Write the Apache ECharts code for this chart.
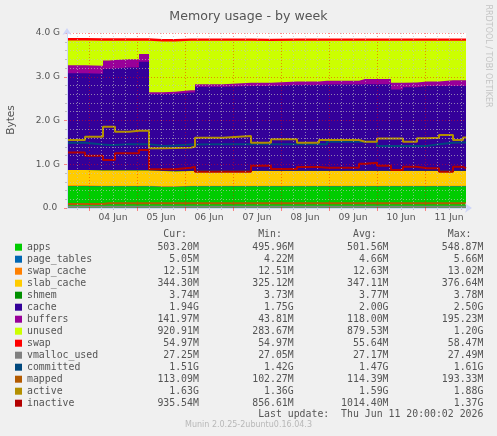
<!DOCTYPE html>
<html>
<head>
<meta charset="utf-8">
<title>Memory usage - by week</title>
<script src="https://cdn.jsdelivr.net/npm/echarts@6.0.0/dist/echarts.min.js"></script>
<style>
    html, body { margin: 0; padding: 0; background: #f0f0f0; }
    #chart { width: 497px; height: 436px; }
</style>
</head>
<body>
<div id="chart"></div>
<script>
// time of each sample, hours after 04 Jun 00:00 (value holds until next sample)
var hours = [-11, -2, 7, 10, 13, 20, 25, 30, 37, 43, 51, 53, 67, 81, 91, 104, 115, 119, 135, 138, 144, 151, 157, 164, 169, 175, 182, 187, 188.5];
var dayLabels = ['04 Jun', '05 Jun', '06 Jun', '07 Jun', '08 Jun', '09 Jun', '10 Jun', '11 Jun'];
var yTickLabels = ['0.0 ', '1.0 G', '2.0 G', '3.0 G', '4.0 G'];

// stacked areas, GiB
var apps       = [0.50, 0.49, 0.49, 0.49, 0.49, 0.49, 0.49, 0.48, 0.48, 0.49, 0.49, 0.49, 0.49, 0.49, 0.49, 0.49, 0.49, 0.49, 0.49, 0.49, 0.49, 0.49, 0.49, 0.49, 0.49, 0.49, 0.49, 0.49, 0.49];
var pageTables = [0.0045, 0.0045, 0.0045, 0.0045, 0.0045, 0.0045, 0.005, 0.004, 0.004, 0.0045, 0.0045, 0.0045, 0.0045, 0.0045, 0.0045, 0.0045, 0.0045, 0.0045, 0.0045, 0.0045, 0.0045, 0.0045, 0.0045, 0.0045, 0.0045, 0.005, 0.005, 0.005, 0.005];
var swapCache  = [0.0127, 0.0127, 0.0125, 0.0125, 0.0125, 0.0125, 0.0125, 0.0124, 0.0124, 0.0124, 0.0124, 0.0123, 0.0123, 0.0123, 0.0123, 0.0123, 0.0123, 0.0123, 0.0122, 0.0122, 0.0122, 0.0122, 0.0122, 0.0122, 0.0122, 0.0122, 0.0122, 0.0122, 0.0122];
var slabCache  = [0.35, 0.35, 0.35, 0.35, 0.35, 0.35, 0.35, 0.35, 0.34, 0.34, 0.34, 0.34, 0.34, 0.34, 0.34, 0.34, 0.34, 0.34, 0.34, 0.34, 0.34, 0.34, 0.34, 0.34, 0.34, 0.34, 0.34, 0.34, 0.34];
var shmem      = [0.0037, 0.0037, 0.0037, 0.0037, 0.0037, 0.0037, 0.0037, 0.0037, 0.0037, 0.0037, 0.0037, 0.0037, 0.0037, 0.0037, 0.0037, 0.0037, 0.0037, 0.0037, 0.0037, 0.0037, 0.0037, 0.0037, 0.0037, 0.0037, 0.0037, 0.0037, 0.0037, 0.0037, 0.0037];
var cache      = [2.21, 2.21, 2.32, 2.33, 2.35, 2.35, 2.48, 1.75, 1.77, 1.79, 1.79, 1.92, 1.94, 1.94, 1.96, 1.96, 1.97, 1.97, 1.98, 1.98, 1.98, 1.86, 1.91, 1.94, 1.94, 1.94, 1.94, 1.94, 1.94];
var buffers    = [0.18, 0.18, 0.19, 0.19, 0.19, 0.19, 0.18, 0.045, 0.045, 0.05, 0.05, 0.06, 0.07, 0.075, 0.08, 0.08, 0.09, 0.09, 0.12, 0.12, 0.12, 0.15, 0.11, 0.10, 0.10, 0.13, 0.13, 0.13, 0.13];
var unused     = [0.57, 0.57, 0.45, 0.44, 0.42, 0.42, 0.30, 1.16, 1.15, 1.13, 1.13, 0.99, 0.96, 0.95, 0.93, 0.93, 0.91, 0.91, 0.87, 0.87, 0.87, 0.96, 0.95, 0.93, 0.93, 0.90, 0.90, 0.90, 0.90];
var swap       = [0.057, 0.057, 0.057, 0.057, 0.057, 0.057, 0.057, 0.055, 0.055, 0.055, 0.055, 0.055, 0.055, 0.055, 0.055, 0.055, 0.055, 0.054, 0.054, 0.054, 0.054, 0.054, 0.054, 0.054, 0.054, 0.054, 0.054, 0.054, 0.054];

// lines, GiB
var vmallocUsed = [0.0265, 0.0265, 0.0265, 0.0265, 0.0265, 0.0265, 0.0265, 0.0265, 0.0265, 0.0265, 0.0265, 0.0265, 0.0265, 0.0265, 0.0265, 0.0265, 0.0265, 0.0265, 0.0265, 0.0265, 0.0265, 0.0265, 0.0265, 0.0265, 0.0265, 0.0265, 0.0265, 0.0265, 0.0265];
var committed   = [1.49, 1.45, 1.44, 1.44, 1.46, 1.46, 1.46, 1.42, 1.43, 1.45, 1.45, 1.46, 1.46, 1.46, 1.456, 1.456, 1.456, 1.516, 1.516, 1.516, 1.42, 1.42, 1.42, 1.42, 1.456, 1.49, 1.50, 1.50, 1.50];
var mapped      = [0.09, 0.09, 0.11, 0.11, 0.11, 0.11, 0.11, 0.11, 0.11, 0.11, 0.11, 0.11, 0.11, 0.11, 0.11, 0.11, 0.11, 0.11, 0.11, 0.11, 0.11, 0.11, 0.11, 0.11, 0.11, 0.11, 0.11, 0.11, 0.11];
var active      = [1.554, 1.63, 1.858, 1.858, 1.744, 1.767, 1.767, 1.364, 1.37, 1.38, 1.40, 1.607, 1.646, 1.49, 1.57, 1.49, 1.554, 1.554, 1.516, 1.516, 1.59, 1.59, 1.516, 1.593, 1.607, 1.669, 1.554, 1.61, 1.61];
var inactive    = [1.27, 1.195, 1.097, 1.097, 1.25, 1.25, 1.326, 0.884, 0.884, 0.92, 0.944, 0.83, 0.83, 0.967, 0.89, 0.937, 0.92, 0.92, 1.013, 1.035, 0.967, 0.869, 0.944, 0.907, 0.907, 0.83, 0.944, 0.907, 0.907];

// legend table
var names   = ['apps', 'page_tables', 'swap_cache', 'slab_cache', 'shmem', 'cache', 'buffers', 'unused', 'swap', 'vmalloc_used', 'committed', 'mapped', 'active', 'inactive'];
var statCur = ['503.20M', '5.05M', '12.51M', '344.30M', '3.74M', '1.94G', '141.97M', '920.91M', '54.97M', '27.25M', '1.51G', '113.09M', '1.63G', '935.54M'];
var statMin = ['495.96M', '4.22M', '12.51M', '325.12M', '3.73M', '1.75G', '43.81M', '283.67M', '54.97M', '27.05M', '1.42G', '102.27M', '1.36G', '856.61M'];
var statAvg = ['501.56M', '4.66M', '12.63M', '347.11M', '3.77M', '2.00G', '118.00M', '879.53M', '55.64M', '27.17M', '1.47G', '114.39M', '1.59G', '1014.40M'];
var statMax = ['548.87M', '5.66M', '13.02M', '376.64M', '3.78M', '2.50G', '195.23M', '1.20G', '58.47M', '27.49M', '1.61G', '193.33M', '1.88G', '1.37G'];

var colors = ['#00CC00', '#0066B3', '#FF8000', '#FFCC00', '#008F00', '#330099', '#990099', '#CCFF00', '#FF0000',
              '#808080', '#00487D', '#B35A00', '#B38F00', '#B30000'];
var stackedData = [apps, pageTables, swapCache, slabCache, shmem, cache, buffers, unused, swap];
var lineData = [vmallocUsed, committed, mapped, active, inactive];

var GRID = 'rgba(192,192,192,0.65)';
var MGRID = 'rgba(255,0,0,0.45)';
var AXIS = '#CFD6F8';
var FONT = '#555';
var MONO = 'DejaVu Sans Mono';
var SANS = 'DejaVu Sans';
var MONO_SIZE = 9.85;

function lpad(s, n) {
    while (s.length < n) s = ' ' + s;
    return s;
}
function rpad(s, n) {
    while (s.length < n) s = s + ' ';
    return s;
}

// running totals of the stack, so each area is painted from 0 to its top,
// highest first and the lower ones over it
var tops = [];
var run = hours.map(function () { return 0; });
stackedData.forEach(function (vals) {
    run = run.map(function (r, k) { return r + vals[k]; });
    tops.push(run);
});

var series = [];
for (var i = stackedData.length - 1; i >= 0; i--) {
    series.push({
        name: names[i], type: 'line', step: 'end',
        data: hours.map(function (h, k) { return [h, tops[i][k]]; }),
        symbol: 'none',
        lineStyle: { width: 0 },
        areaStyle: { color: colors[i], opacity: 1, origin: 'start' },
        itemStyle: { color: colors[i] },
        z: 1
    });
}
lineData.forEach(function (vals, j) {
    var n = stackedData.length + j;
    series.push({
        name: names[n], type: 'line', step: 'end',
        data: hours.map(function (h, k) { return [h, vals[k]]; }),
        symbol: 'none',
        lineStyle: { width: 2, color: colors[n] },
        itemStyle: { color: colors[n] },
        z: 2
    });
});

// tick positions for the x axes
var midnights = dayLabels.map(function (d, i) { return i * 24; });
var noons = dayLabels.map(function (d, i) { return i * 24 + 12; });
var sixHours = [];
for (var h = -6; h <= 186; h += 6) {
    if (h % 24 !== 0) sixHours.push(h);
}

var header = rpad('', 23) + 'Cur:' + lpad('Min:', 16) + lpad('Avg:', 16) + lpad('Max:', 16);
var lastUpdate = lpad('Last update:  Thu Jun 11 20:00:02 2026', 77);

var myChart = echarts.init(document.getElementById('chart'));
myChart.setOption({
    animation: false,
    backgroundColor: '#f0f0f0',
    title: {
        text: 'Memory usage - by week',
        left: 'center', top: 5,
        textStyle: { fontFamily: SANS, fontSize: 12.6, fontWeight: 'normal', color: FONT }
    },
    grid: {
        left: 67, right: 31, top: 33, bottom: 228,
        show: true, backgroundColor: '#ffffff', borderWidth: 0,
        outerBoundsMode: 'none'
    },
    xAxis: [
        {
            type: 'value', min: -11, max: 188.5, position: 'bottom', z: 5,
            axisLine: { show: true, onZero: false, lineStyle: { color: AXIS }, symbol: ['none', 'arrow'], symbolSize: [7, 7], symbolOffset: [0, 6] },
            axisTick: { show: true, customValues: midnights, length: 3, lineStyle: { color: MGRID } },
            axisLabel: { show: false },
            splitLine: { show: true, lineStyle: { color: MGRID, type: [1, 2] } }
        },
        {
            type: 'value', min: -11, max: 188.5, position: 'bottom', z: 4,
            axisLine: { show: false, onZero: false },
            axisTick: { show: true, customValues: sixHours, length: 2, lineStyle: { color: '#c0c0c0' } },
            axisLabel: {
                show: true, customValues: noons, margin: 5,
                fontFamily: SANS, fontSize: 9.2, color: FONT,
                formatter: function (v) { return dayLabels[Math.round((v - 12) / 24)]; }
            },
            splitLine: { show: true, lineStyle: { color: GRID, type: [1, 2] } }
        }
    ],
    yAxis: {
        type: 'value', min: 0, max: 4, interval: 1, z: 5,
        axisLine: { show: true, onZero: false, lineStyle: { color: AXIS }, symbol: ['none', 'arrow'], symbolSize: [7, 7], symbolOffset: [0, 5] },
        axisTick: { show: true, length: 3, lineStyle: { color: MGRID } },
        minorTick: { show: true, splitNumber: 5, length: 2, lineStyle: { color: '#c0c0c0' } },
        axisLabel: {
            fontFamily: SANS, fontSize: 9, color: FONT, margin: 7,
            formatter: function (v) { return yTickLabels[Math.round(v)]; }
        },
        splitLine: { show: true, lineStyle: { color: MGRID, type: [1, 2] } },
        minorSplitLine: { show: true, lineStyle: { color: GRID, type: [1, 2] } }
    },
    legend: {
        orient: 'vertical', left: 15, top: 241.2, padding: 0,
        icon: 'rect', itemWidth: 7, itemHeight: 7, itemGap: 0,
        selectedMode: false,
        data: names,
        textStyle: { fontFamily: MONO, fontSize: MONO_SIZE, color: FONT, lineHeight: 12 },
        formatter: function (name) {
            var i = names.indexOf(name);
            return rpad(name, 29 - statCur[i].length) + statCur[i] +
                lpad(statMin[i], 16) + lpad(statAvg[i], 16) + lpad(statMax[i], 16);
        }
    },
    graphic: [
        { type: 'text', x: 27, y: 234.3, style: { text: header, font: MONO_SIZE + 'px ' + MONO, fill: FONT, textVerticalAlign: 'middle' } },
        { type: 'text', x: 27, y: 414, style: { text: lastUpdate, font: MONO_SIZE + 'px ' + MONO, fill: FONT, textVerticalAlign: 'middle' } },
        { type: 'text', x: 248.5, y: 425, style: { text: 'Munin 2.0.25-2ubuntu0.16.04.3', font: '8px ' + SANS, fill: '#b8b8b8', textAlign: 'center', textVerticalAlign: 'middle' } },
        { type: 'text', x: 11, y: 120, rotation: Math.PI / 2, style: { text: 'Bytes', font: '10.5px ' + SANS, fill: FONT, textAlign: 'center', textVerticalAlign: 'middle' } },
        { type: 'text', x: 488, y: 56, rotation: -Math.PI / 2, style: { text: 'RRDTOOL / TOBI OETIKER', font: '8px ' + SANS, fill: '#c4c4c4', textAlign: 'center', textVerticalAlign: 'middle' } }
    ],
    series: series
});
</script>
</body>
</html>
